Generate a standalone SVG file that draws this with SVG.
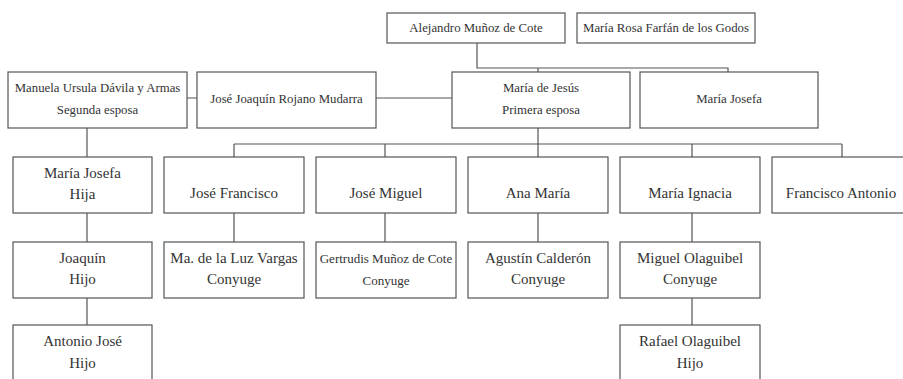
<svg xmlns="http://www.w3.org/2000/svg" width="903" height="379" viewBox="0 0 903 379">
<style>
rect{fill:#fff;stroke:#555;stroke-width:1.2}
text{font-family:"Liberation Serif","DejaVu Serif",serif;fill:#333;text-anchor:middle}
.s{font-size:12.8px}
.m{font-size:15px}
.g{font-size:13px}
#connectors path{fill:none;stroke:#555;stroke-width:1.2}
</style>
<rect x="0" y="0" width="903" height="379" style="fill:#fff;stroke:none"/>
<g id="connectors">
<path d="M477 43V68H728V72M538 68V72"/>
<path d="M187 98H197M376 98H452"/>
<path d="M87 128V157M87 213V242M87 298V325"/>
<path d="M538 128V144M234 144H842M234 144V157M385 144V157M538 144V157M692 144V157M842 144V157"/>
<path d="M234 213V242M385 213V242M538 213V242M692 213V242M692 298V325"/>
</g>
<g id="alejandro"><rect x="387" y="13" width="178" height="30"/><text class="s" x="476" y="32">Alejandro Muñoz de Cote</text></g>
<g id="maria-rosa"><rect x="577" y="13" width="178" height="30"/><text class="s" x="666" y="32">María Rosa Farfán de los Godos</text></g>
<g id="manuela"><rect x="8" y="72" width="179" height="56"/><text class="s" x="97.5" y="92">Manuela Ursula Dávila y Armas</text><text class="s" x="97.5" y="114">Segunda esposa</text></g>
<g id="jose-joaquin"><rect x="197" y="72" width="179" height="56"/><text class="s" x="286.5" y="103">José Joaquín Rojano Mudarra</text></g>
<g id="maria-de-jesus"><rect x="452" y="72" width="178" height="56"/><text class="s" x="541" y="92">María de Jesús</text><text class="s" x="541" y="114">Primera esposa</text></g>
<g id="maria-josefa"><rect x="640" y="72" width="178" height="56"/><text class="s" x="729" y="103">María Josefa</text></g>
<g id="maria-josefa-hija"><rect x="13" y="157" width="139" height="56"/><text class="m" x="82.5" y="178">María Josefa</text><text class="m" x="82.5" y="199">Hija</text></g>
<g id="jose-francisco"><rect x="164" y="157" width="140" height="56"/><text class="m" x="234" y="198">José Francisco</text></g>
<g id="jose-miguel"><rect x="316" y="157" width="140" height="56"/><text class="m" x="386" y="198">José Miguel</text></g>
<g id="ana-maria"><rect x="468" y="157" width="140" height="56"/><text class="m" x="538" y="198">Ana María</text></g>
<g id="maria-ignacia"><rect x="620" y="157" width="140" height="56"/><text class="m" x="690" y="198">María Ignacia</text></g>
<g id="francisco-antonio"><rect x="772" y="157" width="140" height="56"/><text class="m" x="841" y="198">Francisco Antonio</text></g>
<g id="joaquin"><rect x="13" y="242" width="139" height="56"/><text class="m" x="82.5" y="263">Joaquín</text><text class="m" x="82.5" y="284">Hijo</text></g>
<g id="ma-de-la-luz"><rect x="164" y="242" width="140" height="56"/><text class="m" x="234" y="263">Ma. de la Luz Vargas</text><text class="m" x="234" y="284">Conyuge</text></g>
<g id="gertrudis"><rect x="316" y="242" width="140" height="56"/><text class="g" x="386" y="263">Gertrudis Muñoz de Cote</text><text class="g" x="386" y="285">Conyuge</text></g>
<g id="agustin"><rect x="468" y="242" width="140" height="56"/><text class="m" x="538" y="263">Agustín Calderón</text><text class="m" x="538" y="284">Conyuge</text></g>
<g id="miguel"><rect x="620" y="242" width="140" height="56"/><text class="m" x="690" y="263">Miguel Olaguibel</text><text class="m" x="690" y="284">Conyuge</text></g>
<g id="antonio-jose"><rect x="13" y="325" width="139" height="60"/><text class="m" x="82.5" y="346">Antonio José</text><text class="m" x="82.5" y="368">Hijo</text></g>
<g id="rafael"><rect x="620" y="325" width="140" height="60"/><text class="m" x="690" y="346">Rafael Olaguibel</text><text class="m" x="690" y="368">Hijo</text></g>
</svg>
